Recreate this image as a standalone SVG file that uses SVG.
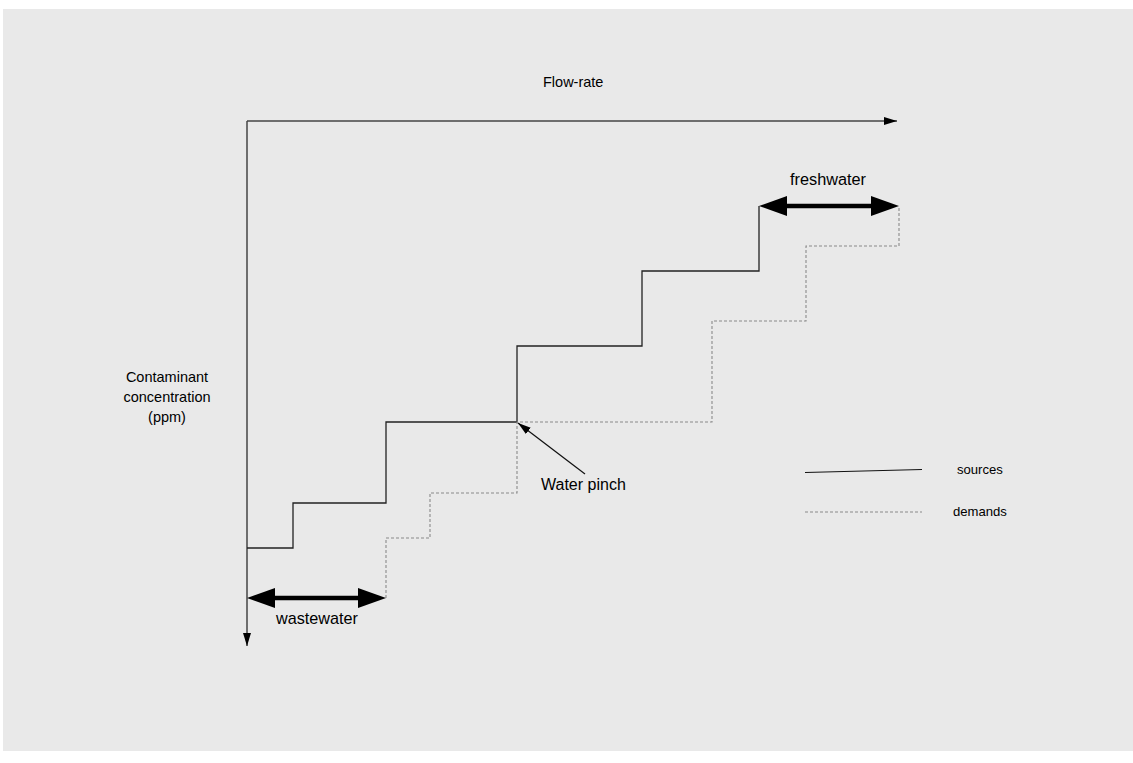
<svg xmlns="http://www.w3.org/2000/svg" width="1133" height="763" viewBox="0 0 1133 763">
<style>
text{font-family:"Liberation Sans",Arial,sans-serif;fill:#000}
.src{fill:none;stroke:#222;stroke-width:1.3}
.dem{fill:none;stroke:#8a8a8a;stroke-width:1.1;stroke-dasharray:3,2}
.axis{fill:none;stroke:#444;stroke-width:1.5}
.thick{fill:none;stroke:#000;stroke-width:4.5}
</style>
<defs>
<marker id="ah" markerWidth="14" markerHeight="10" refX="13" refY="5" orient="auto" markerUnits="userSpaceOnUse">
<path d="M0,1 L13,5 L0,9 Z" fill="#000"/>
</marker>
<marker id="big" markerWidth="30" markerHeight="22" refX="18" refY="11" orient="auto-start-reverse" markerUnits="userSpaceOnUse">
<path d="M0,1 L28,11 L0,21 Z" fill="#000"/>
</marker>
</defs>
<rect x="3" y="9" width="1130" height="742" fill="#e9e9e9"/>
<g id="connectors">
<path id="axis-x" class="axis" d="M247,121 H897" marker-end="url(#ah)"/>
<path id="axis-y" class="axis" d="M247,121 V646" marker-end="url(#ah)"/>
<path id="sources-curve" class="src" d="M247,548 H293 V503 H386 V422 H517 V346 H642 V271 H759 V206"/>
<path id="demands-curve" class="dem" d="M386,598 V538 H430 V493 H517 V422 H712 V321 H806 V246 H899 V206"/>
<path id="wastewater-arrow" class="thick" d="M257,598 H376" marker-start="url(#big)" marker-end="url(#big)"/>
<path id="freshwater-arrow" class="thick" d="M769,206 H889" marker-start="url(#big)" marker-end="url(#big)"/>
<path id="pinch-arrow" fill="none" stroke="#111" stroke-width="1.2" d="M585,474 L518,423" marker-end="url(#ah)"/>
<path id="legend-sources" fill="none" stroke="#111" stroke-width="1.2" d="M805,472.5 L922,469.5"/>
<path id="legend-demands" class="dem" d="M805,512 H922"/>
</g>
<g id="label-flowrate"><text x="543" y="87" font-size="14.5">Flow-rate</text></g>
<g id="label-concentration">
<text x="167" y="382" font-size="14.5" text-anchor="middle">Contaminant</text>
<text x="167" y="402" font-size="14.5" text-anchor="middle">concentration</text>
<text x="167" y="422" font-size="14.5" text-anchor="middle">(ppm)</text>
</g>
<g id="label-freshwater"><text x="790" y="185" font-size="16.3">freshwater</text></g>
<g id="label-wastewater"><text x="276" y="624" font-size="16.2">wastewater</text></g>
<g id="label-pinch"><text x="541" y="490" font-size="16">Water pinch</text></g>
<g id="label-sources"><text x="957" y="474" font-size="13.1">sources</text></g>
<g id="label-demands"><text x="953" y="516" font-size="13.1">demands</text></g>
</svg>
